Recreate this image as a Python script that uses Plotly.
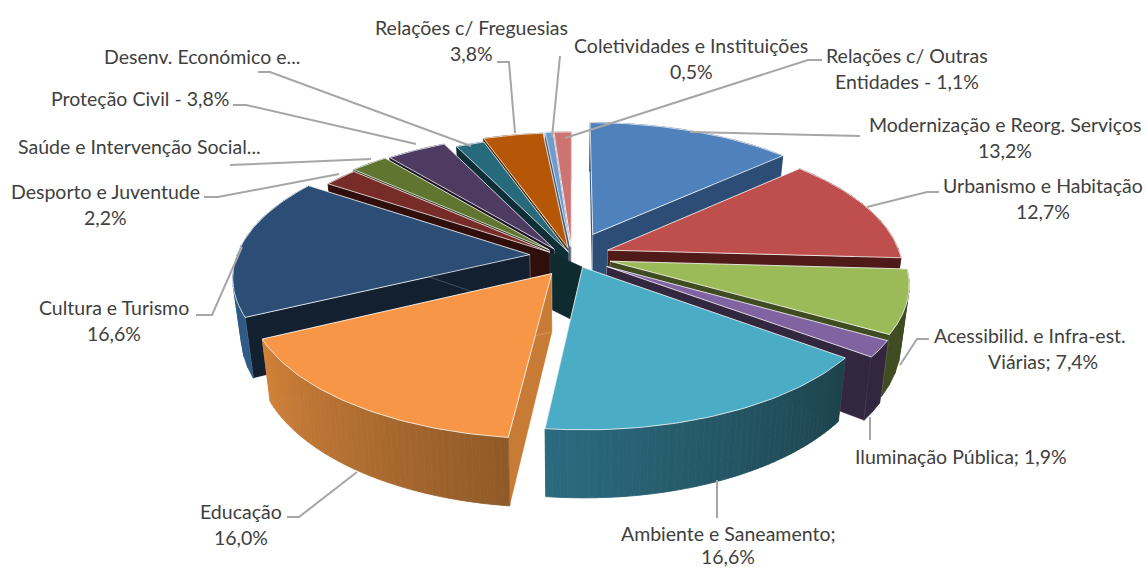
import math
import plotly.graph_objects as go

CATEGORIES = ["Modernização e Reorg. Serviços", "Urbanismo e Habitação", "Acessibilid. e Infra-est. Viárias",
              "Iluminação Pública", "Ambiente e Saneamento", "Educação", "Cultura e Turismo",
              "Desporto e Juventude", "Saúde e Intervenção Social", "Proteção Civil",
              "Desenv. Económico e Turismo", "Relações c/ Freguesias", "Coletividades e Instituições",
              "Relações c/ Outras Entidades"]
VALUES = [13.2, 12.7, 7.4, 1.9, 16.6, 16.0, 16.6, 2.2, 2.4, 3.8, 1.8, 3.8, 0.5, 1.1]
PULL = [0.18, 0.13, 0.135, 0.14, 0.09, 0.145, 0.145, 0.08, 0.09, 0.08, 0.03, 0.065, 0.07, 0.07]
PULL_DIR = [None, None, None, None, None, 208, None, 290, 300, 310, None, None, None, None]
TOP_COLORS = ["#4F81BD", "#BE4F4C", "#9BBB59", "#8064A2", "#4BACC6", "#F79646", "#2C4D75",
              "#772C2A", "#5F7530", "#4D3B62", "#276A7C", "#B65708", "#729ACA", "#CD7371"]
WALL_COLORS = ["#2C4D75", "#4F1A18", "#3F4B20", "#33263F", "#10303A", "#C87B35", "#12202F",
               "#2F0E0C", "#28330F", "#1E1528", "#0F2F38", "#5A2A04", "#3A5A80", "#7A3A38"]
OUTER_START = ["#2C4D75", "#4F1A18", "#3F4B20", "#33263F", "#1D434C", "#8F5A28", "#2F5A85",
               "#2F0E0C", "#28330F", "#1E1528", "#0F2F38", "#5A2A04", "#3A5A80", "#7A3A38"]
OUTER_END = ["#2C4D75", "#4F1A18", "#3F4B20", "#33263F", "#2B6B80", "#D2823A", "#2F5A85",
             "#2F0E0C", "#28330F", "#1E1528", "#0F2F38", "#5A2A04", "#3A5A80", "#7A3A38"]

LABEL_TEXT = ["Relações c/ Freguesias", "3,8%", "Coletividades e Instituições", "0,5%",
              "Relações c/ Outras", "Entidades - 1,1%", "Modernização e Reorg. Serviços", "13,2%",
              "Urbanismo e Habitação", "12,7%", "Acessibilid. e Infra-est.", "Viárias; 7,4%",
              "Iluminação Pública; 1,9%", "Ambiente e Saneamento;", "16,6%", "Educação", "16,0%",
              "Cultura e Turismo", "16,6%", "Desporto e Juventude", "2,2%",
              "Saúde e Intervenção Social...", "Proteção Civil - 3,8%", "Desenv. Económico e..."]
LABEL_X = [471, 471, 691, 691, 907, 907, 1005, 1005, 1043, 1043, 1030, 1043,
           961, 728, 728, 241, 241, 114, 114, 105, 105, 139, 140, 202]
LABEL_Y = [27, 53, 45, 71, 55, 81, 124, 150, 185, 211, 335, 361,
           456, 533, 556, 511, 537, 307, 333, 191, 217, 146, 98, 56]
LEADERS = [
    [(690, 132), (860, 136)],
    [(867, 207), (927, 192), (939, 192)],
    [(900, 365), (917, 339), (929, 339)],
    [(870, 417), (870, 440)],
    [(717, 480), (717, 518)],
    [(357, 472), (299, 517), (287, 517)],
    [(242, 247), (212, 315), (196, 315)],
    [(339, 174), (218, 197), (204, 197)],
    [(371, 159), (230, 165)],
    [(416, 144), (246, 105), (233, 105)],
    [(471, 146), (270, 72), (258, 72)],
    [(515, 133), (509, 62), (497, 62)],
    [(552, 137), (560, 56)],
    [(565, 138), (808, 60), (822, 60)],
]

CX, CY, AX, AY, K, H, BOTTOM_X = 572, 256, 293, 134.5, 0.15, 57, 0.975


def proj(wx, wy, down=False):
    s = 1 / (1 + K * wy)
    x, y = CX + AX * wx * s, CY - AY * wy * s
    if down:
        x = CX + (x - CX) * BOTTOM_X
        y += H * s
    return x, y


def hexrgb(c):
    return [int(c[i:i + 2], 16) for i in (1, 3, 5)]


def lerp(a, b, t):
    pa, pb = hexrgb(a), hexrgb(b)
    return "#%02X%02X%02X" % tuple(round(p + (q - p) * t) for p, q in zip(pa, pb))


fig = go.Figure()


def poly(points, fill, line=None, width=0.6):
    fig.add_trace(go.Scatter(x=[p[0] for p in points] + [points[0][0]],
                             y=[p[1] for p in points] + [points[0][1]],
                             mode="lines", fill="toself", fillcolor=fill,
                             line=dict(color=line or fill, width=width),
                             hoverinfo="skip", showlegend=False))


total = sum(VALUES)
slices, acc = [], 0.0
for i, v in enumerate(VALUES):
    a0 = acc / total * 2 * math.pi
    acc += v
    a1 = acc / total * 2 * math.pi
    mid = (a0 + a1) / 2
    slices.append((i, a0, a1, mid))

ox = {}
for i, a0, a1, mid in slices:
    d = math.radians(PULL_DIR[i]) if PULL_DIR[i] is not None else mid
    ox[i] = (PULL[i] * math.sin(d), PULL[i] * math.cos(d))


def rim(i, a):
    return ox[i][0] + math.sin(a), ox[i][1] + math.cos(a)


amb, desp, ilum = 4, 7, 3
for i, a0, a1, mid in sorted(slices, key=lambda s: -math.cos(s[3])):
    if i == ilum:
        # dark inner face that shows between the back slices and Ambiente
        poly([proj(*ox[desp]), proj(*ox[amb]), proj(*ox[amb], True), proj(*ox[desp], True)], "#102B30")
    wall = WALL_COLORS[i]
    apex = ox[i]
    for a in (a0, a1):
        r = rim(i, a)
        poly([proj(*apex), proj(*r), proj(*r, True), proj(*apex, True)], wall, "rgba(255,255,255,0.35)")
    step = 1.2 if OUTER_START[i] != OUTER_END[i] else 4
    n = max(2, int((a1 - a0) / math.radians(step)))
    for j in range(n):
        b0 = a0 + (a1 - a0) * j / n
        b1 = a0 + (a1 - a0) * (j + 1) / n
        c = lerp(OUTER_START[i], OUTER_END[i], (j + 0.5) / n)
        r0, r1 = rim(i, b0), rim(i, b1)
        poly([proj(*r0), proj(*r1), proj(*r1, True), proj(*r0, True)], c, c, 0.8)
    arc = [proj(*rim(i, a0 + (a1 - a0) * j / 48)) for j in range(49)]
    poly([proj(*apex)] + arc, TOP_COLORS[i], "rgba(255,255,255,0.75)", 1)

for pts in LEADERS:
    fig.add_trace(go.Scatter(x=[p[0] for p in pts], y=[p[1] for p in pts], mode="lines",
                             line=dict(color="#A6A6A6", width=2), hoverinfo="skip", showlegend=False))

for t, x, y in zip(LABEL_TEXT, LABEL_X, LABEL_Y):
    fig.add_annotation(x=x, y=y, text=t, showarrow=False, xanchor="center", yanchor="middle",
                       font=dict(family="Lato", size=19.5, color="#404040"))

fig.update_layout(width=1147, height=568, margin=dict(l=0, r=0, t=0, b=0),
                  paper_bgcolor="white", plot_bgcolor="white", showlegend=False,
                  xaxis=dict(range=[0, 1147], visible=False, fixedrange=True),
                  yaxis=dict(range=[568, 0], visible=False, fixedrange=True))
fig.write_html("out.html", config=dict(displayModeBar=False),
               post_script="document.body.style.margin='0';document.documentElement.style.overflow='hidden';")
